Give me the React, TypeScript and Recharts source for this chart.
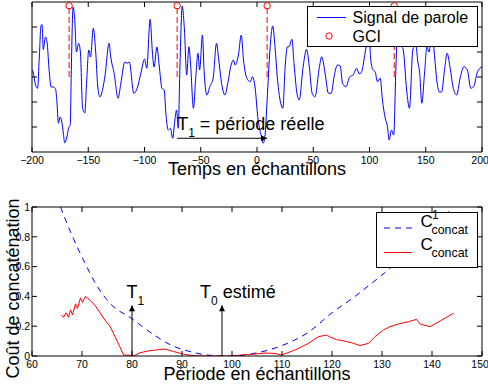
import React from 'react';
import {
  ComposedChart,
  Label,
  Legend,
  Line,
  ReferenceLine,
  Scatter,
  XAxis,
  YAxis,
} from 'recharts';

const FONT = '"Liberation Sans", Arial, Helvetica, sans-serif';

// ---- top panel: speech signal around the GCIs ----
const sampleT = [
  -200, -199, -197, -195, -193.5, -192, -191, -190, -188, -186.5, -185, -183, -181, -179, -178,
  -176.5, -175, -173.5, -172, -171, -169, -167.5, -166, -165, -163.5, -162, -160.5, -158.5, -157,
  -155, -153, -151.5, -149.5, -148, -145.5, -143.5, -141.5, -139.5, -137.5, -135, -131.5, -130,
  -127, -123.5, -121, -117.5, -115.5, -113.5, -109.5, -106.5, -103, -100, -98, -95, -93, -91.5,
  -89, -87, -84.5, -82.5, -81, -79, -77, -75, -73, -71.5, -70, -68.5, -66.5, -64.5, -62.5, -60.5,
  -59, -56.5, -54.5, -52.5, -51, -48.5, -47, -44.5, -42, -39, -36, -34, -31.5, -28.5, -26, -23,
  -21, -19.5, -16.5, -14, -12, -9, -6, -4, -2, 1, 4, 5.5, 7, 9, 11.5, 14, 16, 18, 20.5, 23, 25,
  27, 28.5, 31, 33, 35.5, 37.5, 41, 44, 46.5, 49, 51.5, 55.5, 57.5, 60.5, 63.5, 66, 68.5, 71.5,
  74, 76, 79, 82.5, 85.5, 88.5, 91, 93, 96, 98, 99.5, 101, 103, 105, 107, 109.5, 111.5, 114, 116,
  117.5, 119.5, 121.5, 123.5, 125.5, 127.5, 130, 133, 135.5, 138.5, 141, 143, 144.5, 146.5, 149,
  151, 153, 155.5, 157.5, 160, 162, 164, 167, 169, 171.5, 174.5, 177.5, 180.5, 184, 187, 190,
  192.5, 196, 200,
];
const sampleV = [
  0.3, 0.2, -0.3, -0.45, 0.8, 2.05, 2.1, 1.1, 1.6, 1.35, 0.4, -0.4, -0.4, -0.5, -0.9,
  -1.85, -1.6, -1.8, -2.3, -2.63, -2.4, -2.05, -1.9, 0.4, 2.8, 2.3, 1.0, 1.35, 1.0,
  -1.25, -1.43, -0.25, 1.08, 0.8, 1.95, 1.08, -0.4, -0.8, -0.55, 0.08, 1.35, 0.8,
  0.15, -0.85, -0.25, 0.6, 0.55, 0.6, -0.65, -0.45, 0.2, 0.72, 0.35, 2.31, 1.0, 0.4,
  1.2, 0.48, -0.45, -0.52, -1.45, -2.12, -2.05, -2.45, -1.72, -1.32, -2.05, 0.4, 2.84, 1.88, 0.08, 1.21,
  0.48, -1.25, -0.05, 0.95, 0.28, 1.68, 0.21, -0.72, -0.39, -0.05, 1.35, 0.68, -0.25, -0.72, -0.25, 0.48,
  0.68, 0.48, 0.88, 1.68, 0.68, -0.05, -0.19, 0.01, -0.32, -1.72, -2.39, -2.65, -2.39, -0.92, 1.08, 2.04, 1.21, 0.01, -0.92, -1.25, 0.41,
  1.21, 1.21, 1.51, 0.48, -0.65, -0.92, 0.41, 1.11, 0.41, -0.65, -0.79, 0.41, 0.81, 0.15, -0.65, -0.65, 0.01, 0.48,
  0.44, -0.25, -0.39, 0.01, 0.08, 0.35, 0.12, 0.21, 0.95, 1.48, 1.9, 0.75, 0.28, 0.21, -0.19, -0.05, -0.92, -1.65, -1.99,
  -2.52, -2.12, -2.32, 0.41, 2.6, 1.35, 1.08, -0.52, -1.25, 1.08, 1.3, 0.6, 0.2, -1.05, 0.2,
  1.2, 1.0, 1.85, 1.0, -0.2, -0.6, -0.6, 0.41, 0.95, 0.41, -0.45, -0.72, -0.05, 0.41, 0.28, -0.45,
  -0.39, 0.21, 0.41,
];
const gciT = [-167, -71, 9, 122];
const gciMark = 2.85;
const timeTicks = [-200, -150, -100, -50, 0, 50, 100, 150, 200];
const ampTicks = [-2, -1, 0, 1, 2];
const periodArrowLevel = -2.45;

// ---- bottom panel: concatenation cost vs period ----
const c1Period = [65.7, 68, 70.5, 73, 75.7, 80, 83.6, 88, 91.6, 95.6, 99.6, 104.8, 110, 115.3, 120, 124.6, 128, 131.3, 134, 137, 140.5, 143.6];
const c1Cost = [1.0, 0.81, 0.63, 0.47, 0.35, 0.25, 0.16, 0.07, 0.03, 0.005, 0, 0.02, 0.07, 0.16, 0.29, 0.4, 0.49, 0.58, 0.66, 0.76, 0.87, 0.98];
const cPeriod = [
  65.9, 66.3, 66.8, 67.3, 67.7, 68.1, 68.7, 69.1, 69.7, 70.1, 70.7, 71.6, 72.6, 73.6, 74.6, 75.6, 76.6,
  77.6, 78.3, 79.6, 80.3, 81.6, 83.6, 86.6, 88.3, 90.3, 92.3, 95, 100, 102.9, 104.6, 106.6, 108.6,
  109.9, 112.6, 115.3, 117.3, 118.9, 119.5, 120.9, 122.6, 124.3, 125.6, 127.3, 128.6, 130.3, 131.6,
  133.3, 135.3, 136.9, 137.6, 138.6, 139.6, 140.6, 141.9, 144.3,
];
const cCost = [
  0.275, 0.26, 0.29, 0.26, 0.31, 0.275, 0.35, 0.32, 0.39, 0.36, 0.4, 0.375, 0.34, 0.29, 0.24, 0.2, 0.13,
  0.06, 0.007, 0.005, 0, 0.022, 0.036, 0.047, 0.03, 0.013, 0.002, 0, 0, 0.01, 0.013, 0.02, 0.017,
  0.007, 0.04, 0.085, 0.13, 0.14, 0.13, 0.11, 0.1, 0.085, 0.07, 0.085, 0.13, 0.175, 0.197,
  0.215, 0.23, 0.246, 0.215, 0.205, 0.197, 0.215, 0.24, 0.287,
];
const periodTicks = [60, 70, 80, 90, 100, 110, 120, 130, 140, 150];
const costTicks = [0, 0.2, 0.4, 0.6, 0.8, 1];
const t1Period = 80;
const t0Period = 98;
const arrowTop = 0.34;

const signalData = sampleT.map((t, i) => ({ t, v: sampleV[i] }));
const gciData = gciT.map((t) => ({ t, v: gciMark }));
const c1Data = c1Period.map((p, i) => ({ p, c: c1Cost[i] }));
const cData = cPeriod.map((p, i) => ({ p, c: cCost[i] }));

const tickStyle = { fontSize: 10.5, fill: '#000', fontFamily: FONT };
const minus = (v: number) => (v < 0 ? `\u2212${Math.abs(v)}` : `${v}`);
const blank = () => '';

function SignalLegend() {
  return (
    <svg width={171} height={41} style={{ display: 'block', fontFamily: FONT }}>
      <rect x={0.5} y={0.5} width={170} height={40} fill="#fff" stroke="#000" />
      <line x1={10} x2={39} y1={11.5} y2={11.5} stroke="#0000ff" />
      <text x={45.5} y={17.3} fontSize={16}>Signal de parole</text>
      <circle cx={22} cy={30} r={3.2} fill="none" stroke="#ff0000" />
      <text x={45.5} y={36} fontSize={16}>GCI</text>
    </svg>
  );
}

function CostLegend() {
  return (
    <svg width={102} height={56} style={{ display: 'block', overflow: 'visible', fontFamily: FONT }}>
      <rect x={0.5} y={0.5} width={101} height={55} fill="#fff" stroke="#000" />
      <line x1={8} x2={36} y1={16} y2={16} stroke="#0000ff" strokeDasharray="6 5" />
      <text x={44.5} y={15} fontSize={17}>C</text>
      <text x={56} y={7} fontSize={12}>1</text>
      <text x={55.5} y={22} fontSize={12.4}>concat</text>
      <line x1={8} x2={36} y1={40.5} y2={40.5} stroke="#ff0000" />
      <text x={44.5} y={38} fontSize={17}>C</text>
      <text x={55.5} y={45} fontSize={12.4}>concat</text>
    </svg>
  );
}

function subText(main: string, sub: string, rest: string, x: number, y: number) {
  return (
    <text x={x} y={y} fontSize={18} fill="#000" fontFamily={FONT}>
      {main}
      <tspan fontSize={12} dy={7}>{sub}</tspan>
      <tspan dy={-7}>{rest}</tspan>
    </text>
  );
}

function SignalChart() {
  return (
    <ComposedChart width={488} height={185} margin={{ top: 1, right: 5, bottom: 0, left: 0 }}>
      <XAxis
        xAxisId="b"
        type="number"
        dataKey="t"
        domain={[-200, 200]}
        ticks={timeTicks}
        allowDataOverflow
        height={33}
        tickSize={-5}
        tickMargin={10}
        stroke="#000"
        tick={tickStyle}
        tickFormatter={minus}
      >
        <Label value="Temps en échantillons" position="insideBottom" offset={10} fontSize={18} fill="#000" fontFamily={FONT} />
      </XAxis>
      <XAxis
        xAxisId="t"
        orientation="top"
        type="number"
        dataKey="t"
        domain={[-200, 200]}
        ticks={timeTicks}
        allowDataOverflow
        height={1}
        tickSize={-5}
        stroke="#000"
        tickFormatter={blank}
      />
      <YAxis
        yAxisId="l"
        type="number"
        dataKey="v"
        domain={[-3, 3]}
        ticks={ampTicks}
        allowDataOverflow
        width={32}
        tickSize={-5}
        stroke="#000"
        tickFormatter={blank}
      />
      <YAxis
        yAxisId="r"
        orientation="right"
        type="number"
        dataKey="v"
        domain={[-3, 3]}
        ticks={ampTicks}
        allowDataOverflow
        width={1}
        tickSize={-5}
        stroke="#000"
        tickFormatter={blank}
      />
      {gciT.map((t) => (
        <ReferenceLine
          key={t}
          xAxisId="b"
          yAxisId="l"
          segment={[{ x: t, y: 0 }, { x: t, y: gciMark }]}
          stroke="#ff0000"
          strokeDasharray="6 3"
        />
      ))}
      <Line
        xAxisId="b"
        yAxisId="l"
        data={signalData}
        dataKey="v"
        type="monotone"
        stroke="#0000ff"
        strokeWidth={1}
        dot={false}
        isAnimationActive={false}
      />
      <Scatter
        xAxisId="b"
        yAxisId="l"
        data={gciData}
        dataKey="v"
        isAnimationActive={false}
        shape={(p: any) => <circle cx={p.cx} cy={p.cy} r={3.2} fill="none" stroke="#ff0000" />}
      />
      <ReferenceLine
        xAxisId="b"
        yAxisId="l"
        segment={[{ x: gciT[1], y: periodArrowLevel }, { x: gciT[2], y: periodArrowLevel }]}
        stroke="#000"
        markerEnd="url(#arrowHead)"
        label={(p: any) => subText('T', '1', ' = période réelle', p.viewBox.x, p.viewBox.y - 8)}
      />
      <Legend
        layout="vertical"
        align="center"
        verticalAlign="middle"
        wrapperStyle={{ position: 'absolute', left: 307, top: 6, width: 171, height: 41 }}
        content={() => <SignalLegend />}
      />
    </ComposedChart>
  );
}

function CostChart() {
  return (
    <ComposedChart width={488} height={200} margin={{ top: 21, right: 5, bottom: 0, left: 0 }}>
      <XAxis
        xAxisId="b"
        type="number"
        dataKey="p"
        domain={[60, 150]}
        ticks={periodTicks}
        allowDataOverflow
        height={29}
        tickSize={-5}
        tickMargin={10}
        stroke="#000"
        tick={tickStyle}
      >
        <Label value="Période en échantillons" position="insideBottom" offset={5} fontSize={18} fill="#000" fontFamily={FONT} />
      </XAxis>
      <XAxis
        xAxisId="t"
        orientation="top"
        type="number"
        dataKey="p"
        domain={[60, 150]}
        ticks={periodTicks}
        allowDataOverflow
        height={1}
        tickSize={-5}
        stroke="#000"
        tickFormatter={blank}
      />
      <YAxis
        yAxisId="l"
        type="number"
        dataKey="c"
        domain={[0, 1]}
        ticks={costTicks}
        allowDataOverflow
        width={32}
        tickSize={-5}
        tickMargin={7}
        stroke="#000"
        tick={tickStyle}
      >
        <Label
          content={(p: any) => {
            const vb = p.viewBox;
            const x = vb.x + 18.5;
            const y = vb.y + vb.height / 2 + 7;
            return (
              <text x={x} y={y} transform={`rotate(-90 ${x} ${y})`} textAnchor="middle" fontSize={18} fill="#000" fontFamily={FONT}>
                Coût de concaténation
              </text>
            );
          }}
        />
      </YAxis>
      <YAxis
        yAxisId="r"
        orientation="right"
        type="number"
        dataKey="c"
        domain={[0, 1]}
        ticks={costTicks}
        allowDataOverflow
        width={1}
        tickSize={-5}
        stroke="#000"
        tickFormatter={blank}
      />
      <Line
        xAxisId="b"
        yAxisId="l"
        data={c1Data}
        dataKey="c"
        type="monotone"
        stroke="#0000ff"
        strokeDasharray="6 5"
        dot={false}
        isAnimationActive={false}
      />
      <Line
        xAxisId="b"
        yAxisId="l"
        data={cData}
        dataKey="c"
        type="linear"
        stroke="#ff0000"
        dot={false}
        isAnimationActive={false}
      />
      <ReferenceLine
        xAxisId="b"
        yAxisId="l"
        segment={[{ x: t1Period, y: 0 }, { x: t1Period, y: arrowTop }]}
        stroke="#000"
        markerEnd="url(#arrowHead)"
        label={(p: any) => subText('T', '1', '', p.viewBox.x - 5.5, p.viewBox.y - 7)}
      />
      <ReferenceLine
        xAxisId="b"
        yAxisId="l"
        segment={[{ x: t0Period, y: 0 }, { x: t0Period, y: arrowTop }]}
        stroke="#000"
        markerEnd="url(#arrowHead)"
        label={(p: any) => subText('T', '0', ' estimé', p.viewBox.x - 22, p.viewBox.y - 7)}
      />
      <Legend
        layout="vertical"
        align="center"
        verticalAlign="middle"
        wrapperStyle={{ position: 'absolute', left: 376, top: 27, width: 102, height: 56 }}
        content={() => <CostLegend />}
      />
    </ComposedChart>
  );
}

export default function App() {
  return (
    <div style={{ position: 'absolute', left: 0, top: 0, width: 488, height: 385, background: '#fff', fontFamily: FONT }}>
      <svg width={0} height={0} style={{ position: 'absolute' }}>
        <defs>
          <marker id="arrowHead" viewBox="0 0 10 10" refX={10} refY={5} markerWidth={8} markerHeight={6} markerUnits="userSpaceOnUse" orient="auto">
            <path d="M0,0 L10,5 L0,10 z" fill="#000" />
          </marker>
        </defs>
      </svg>
      <div style={{ position: 'absolute', left: 0, top: 0 }}>
        <SignalChart />
      </div>
      <div style={{ position: 'absolute', left: 0, top: 185 }}>
        <CostChart />
      </div>
    </div>
  );
}
